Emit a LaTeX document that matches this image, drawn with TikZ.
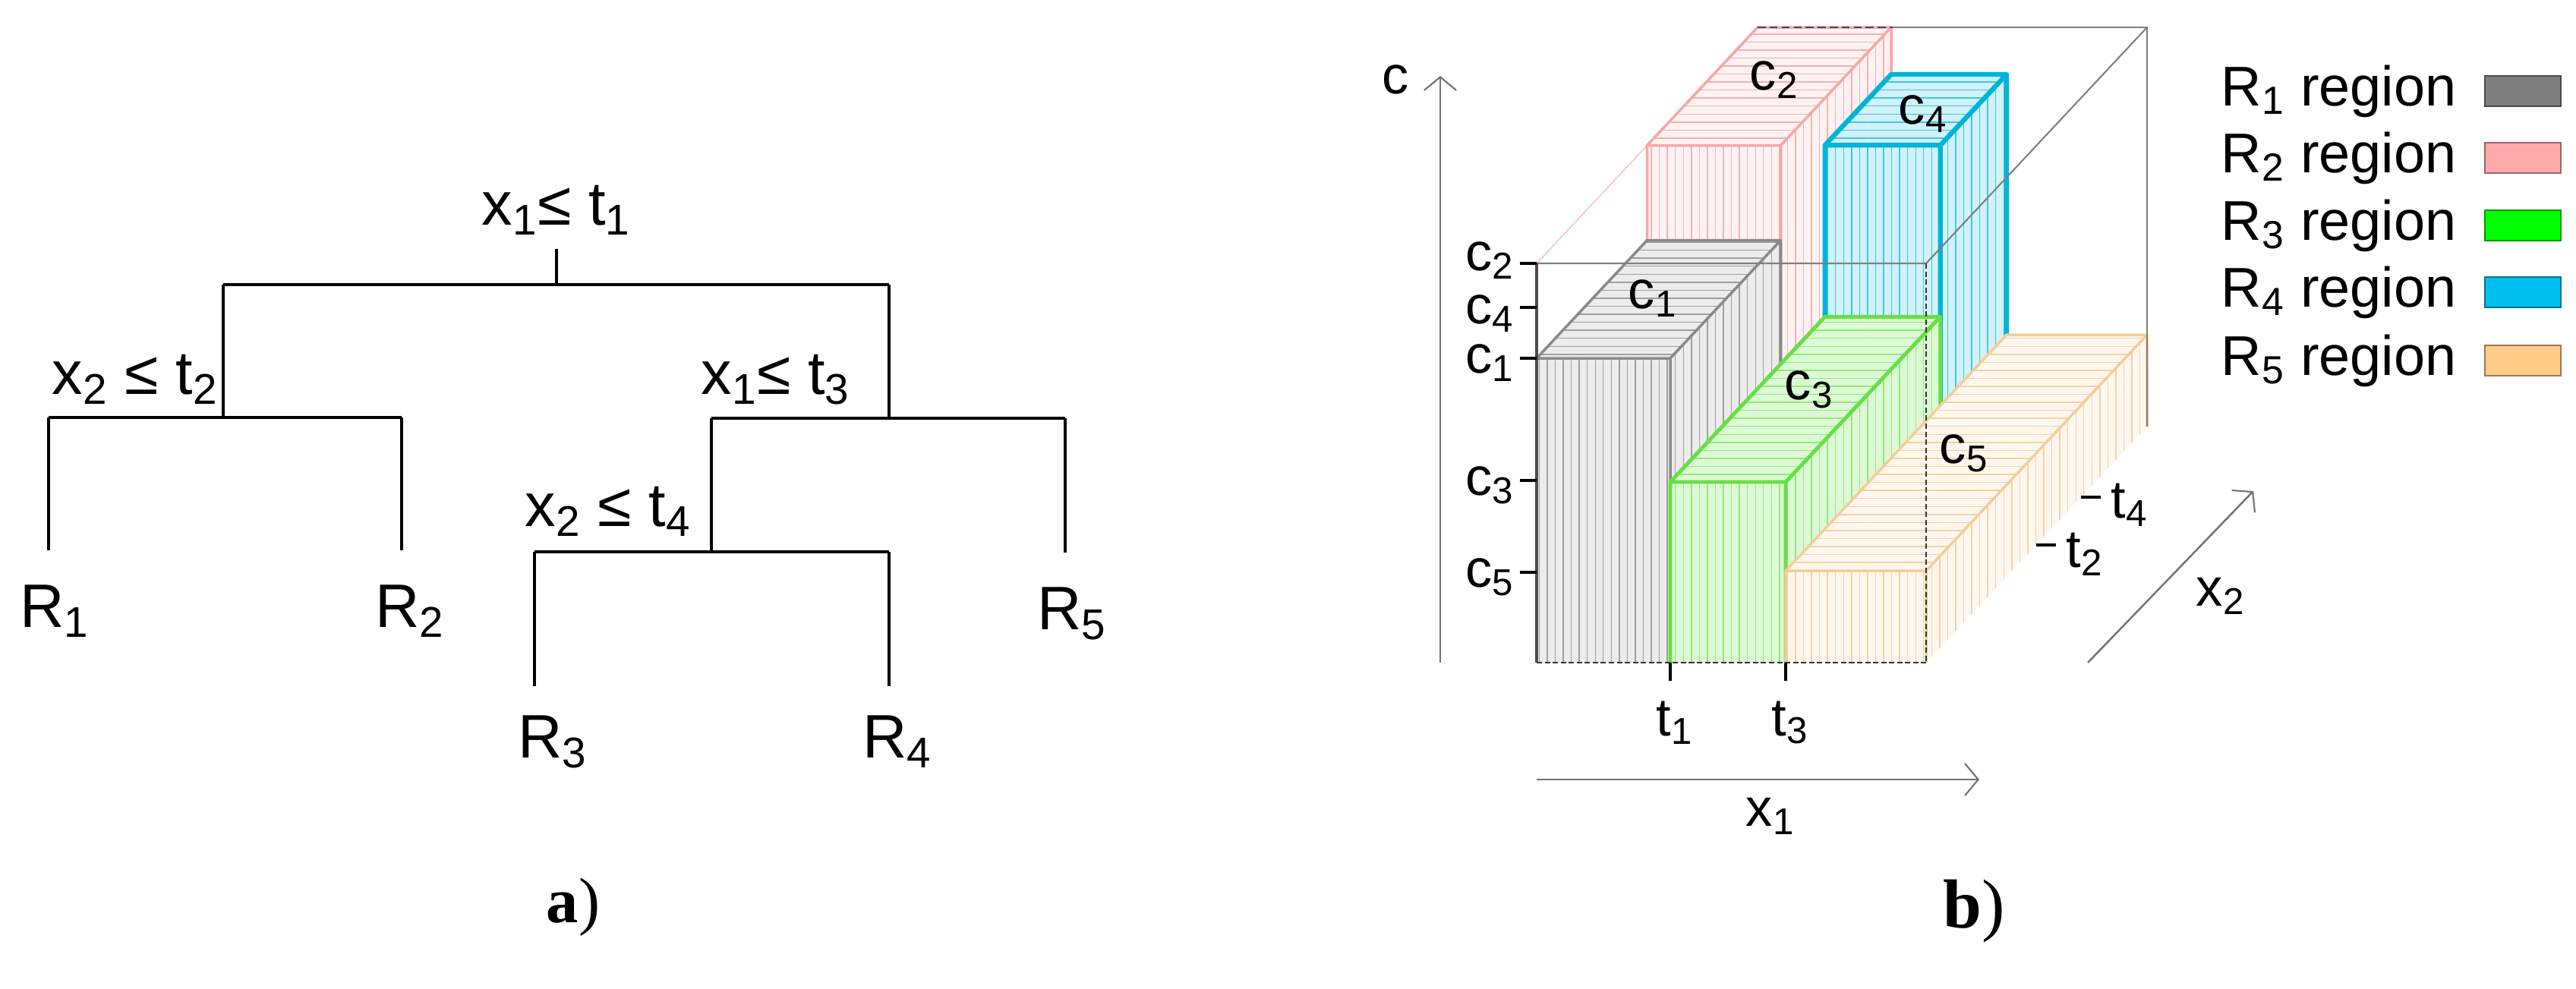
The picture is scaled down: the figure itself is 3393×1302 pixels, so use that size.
\documentclass[tikz,border=0pt]{standalone}
\usepackage{fontspec}
\setmainfont{Liberation Sans}
\newfontfamily\serfam{Liberation Serif}
\usetikzlibrary{patterns,arrows.meta}
\newcommand\sbs[1]{\textsubscript{#1}}
\definecolor{grayE}{HTML}{8A8A8A}
\definecolor{pinkE}{HTML}{F4A9A9}
\definecolor{greenE}{HTML}{66E044}
\definecolor{cyanE}{HTML}{00B4D8}
\definecolor{orangeE}{HTML}{F6CC98}
\definecolor{legG}{HTML}{7F7F7F}
\definecolor{legP}{HTML}{FFAAAA}
\definecolor{legGr}{HTML}{00FF00}
\definecolor{legC}{HTML}{00BFEF}
\definecolor{legO}{HTML}{FFCC88}
\tikzset{
 treeline/.style={line width=0.9pt,black},
 tlab/.style={font=\fontsize{23}{27}\selectfont,inner sep=0pt},
 clab/.style={font=\fontsize{20}{23}\selectfont,inner sep=0pt},
 frame/.style={line width=0.6pt,gray},
 R1 fill/.style={fill=gray!15}, R1 stripe/.style={pattern color=gray!75}, R1 edge/.style={draw=grayE,line width=1pt},
 R2 fill/.style={fill=pinkE!15}, R2 stripe/.style={pattern color=pinkE!90}, R2 edge/.style={draw=pinkE,line width=1pt},
 R3 fill/.style={fill=greenE!22}, R3 stripe/.style={pattern color=greenE!70}, R3 edge/.style={draw=greenE,line width=1.4pt},
 R4 fill/.style={fill=cyanE!18}, R4 stripe/.style={pattern color=cyanE!75}, R4 edge/.style={draw=cyanE,line width=1.8pt},
 R5 fill/.style={fill=orangeE!15}, R5 stripe/.style={pattern color=orangeE!90}, R5 edge/.style={draw=orangeE,line width=1pt},
 open arrow/.style={-{Straight Barb[length=5pt,width=12pt,line width=0.6pt]}}
}
% xa xb da db h style
\newcommand\cuboid[6]{%
 \coordinate (A) at ({#1+291*#3},{873-311*#3});
 \coordinate (B) at ({#2+291*#3},{873-311*#3});
 \coordinate (C) at ({#2+291*#3},{#5-311*#3});
 \coordinate (Dd) at ({#1+291*#3},{#5-311*#3});
 \coordinate (E) at ({#2+291*#4},{873-311*#4});
 \coordinate (F) at ({#2+291*#4},{#5-311*#4});
 \coordinate (G) at ({#1+291*#4},{#5-311*#4});
 \fill[#6 fill] (A) -- (B) -- (E) -- (F) -- (G) -- (Dd) -- cycle;
 \fill[pattern=vertical lines,#6 stripe] (A) -- (B) -- (C) -- (Dd) -- cycle;
 \fill[pattern=vertical lines,#6 stripe] (B) -- (E) -- (F) -- (C) -- cycle;
 \fill[pattern=horizontal lines,#6 stripe] (Dd) -- (C) -- (F) -- (G) -- cycle;
 \draw[#6 edge,line join=round] (A) -- (Dd) -- (C) -- (B) (Dd) -- (G) -- (F) -- (C) (F) -- (E);
}
\begin{document}
\begin{tikzpicture}[x=0.01cm,y=-0.01cm]
\useasboundingbox (0,0) rectangle (3393,1302);
\fill[white] (0,0) rectangle (3393,1302);
% ---------------- tree ----------------
\node[tlab] (n1) at (733,277) {x\sbs{1}≤ t\sbs{1}};
\node[tlab] (n2) at (178,500) {x\sbs{2} ≤ t\sbs{2}};
\node[tlab] (n3) at (1022,500) {x\sbs{1}≤ t\sbs{3}};
\node[tlab] (n4) at (801,674) {x\sbs{2} ≤ t\sbs{4}};
\node[tlab] (l1) at (72,805) {R\sbs{1}};
\node[tlab] (l2) at (540,805) {R\sbs{2}};
\node[tlab] (l5) at (1412,808) {R\sbs{5}};
\node[tlab] (l3) at (728,977) {R\sbs{3}};
\node[tlab] (l4) at (1182,977) {R\sbs{4}};
\coordinate (j1a) at (733,328); \coordinate (j1) at (733,375);
\coordinate (j1l) at (294,375); \coordinate (j1r) at (1171,375);
\coordinate (j2) at (294,550); \coordinate (j2l) at (64,550); \coordinate (j2r) at (529,550);
\coordinate (e1) at (64,725); \coordinate (e2) at (529,725);
\coordinate (j3) at (1171,551); \coordinate (j3l) at (937,551); \coordinate (j3r) at (1403,551);
\coordinate (e5) at (1403,728);
\coordinate (j4) at (937,727); \coordinate (j4l) at (704,727); \coordinate (j4r) at (1171,727);
\coordinate (e3) at (704,904); \coordinate (e4) at (1171,904);
\draw[treeline] (j1a) -- (j1) (j1l) -- (j1r);
\draw[treeline] (j1l) -- (j2) (j2l) -- (j2r) (j2l) -- (e1) (j2r) -- (e2);
\draw[treeline] (j1r) -- (j3) (j3l) -- (j3r) (j3r) -- (e5);
\draw[treeline] (j3l) -- (j4) (j4l) -- (j4r) (j4l) -- (e3) (j4r) -- (e4);
\node[font=\serfam\fontsize{24}{28}\selectfont] (pa) at (755,1195) {\textbf{a})};
% ---------------- 3D plot ----------------
\draw[pinkE!60,line width=0.5pt] (2024,347) -- (2315,36);
\cuboid{2024}{2200}{0.5}{1}{347}{R2}
\cuboid{2200}{2352}{0.7}{1}{409}{R4}
\cuboid{2024}{2200}{0}{0.5}{472}{R1}
\cuboid{2200}{2352}{0}{0.7}{635}{R3}
\cuboid{2352}{2537}{0}{1}{752}{R5}
% cube frame
\draw[frame] (2002,347) -- (2537,347) -- (2828,36);
\draw[frame,dash pattern=on 3pt off 1.5pt,black!70] (2315,36) -- (2493,36);
\draw[frame] (2493,36) -- (2828,36) -- (2828,562);
\draw[black!80,line width=0.6pt,dash pattern=on 2pt off 1pt] (2537,347) -- (2537,873);
\draw[black!80,line width=0.6pt,dash pattern=on 2pt off 1pt] (2024,873) -- (2537,873);
\draw[black!70,line width=0.9pt] (2024,347) -- (2024,873);
% c axis
\coordinate (cb) at (1897,873); \coordinate (ct) at (1897,100);
\draw[gray!90!black,line width=0.7pt,open arrow] (cb) -- (ct);
\node[clab] (clab) at (1838,105) {c};
\foreach \yy/\lab/\dy in {347/2/-4,405/4/8,472/1/6,633/3/6,754/5/6}{
  \draw[line width=1.3pt] (2002,\yy) -- (2024,\yy);
  \node[clab,anchor=east] at (1995,\yy+\dy) {c\sbs{\lab}};
}
\foreach \xx/\lab in {2200/1,2352/3}{
  \draw[line width=1.3pt] (\xx,873) -- (\xx,897);
  \node[clab] at (\xx+6,952) {t\sbs{\lab}};
}
\draw[line width=1.1pt] (2741,655) -- (2767,655);
\node[clab,anchor=west] (t4) at (2780,665) {t\sbs{4}};
\draw[line width=1.1pt] (2682,718) -- (2708,718);
\node[clab,anchor=west] (t2) at (2721,730) {t\sbs{2}};
\coordinate (x1a) at (2024,1027); \coordinate (x1b) at (2607,1027);
\draw[gray!90!black,line width=0.7pt,open arrow] (x1a) -- (x1b);
\node[clab] (x1l) at (2332,1075) {x\sbs{1}};
\coordinate (x2a) at (2750,873); \coordinate (x2b) at (2968,647);
\draw[gray!90!black,line width=0.7pt,open arrow] (x2a) -- (x2b);
\node[clab] (x2l) at (2925,785) {x\sbs{2}};
\node[clab] at (2337,105) {c\sbs{2}};
\node[clab] at (2533,150) {c\sbs{4}};
\node[clab] at (2177,393) {c\sbs{1}};
\node[clab] at (2383,513) {c\sbs{3}};
\node[clab] at (2587,597) {c\sbs{5}};
% legend
\foreach \yy/\n/\col in {120/1/legG,208/2/legP,297/3/legGr,385/4/legC,475/5/legO}{
  \node[font=\fontsize{21}{25}\selectfont,inner sep=0pt,anchor=west] at (2925,\yy) {R\sbs{\n} region};
  \draw[fill=\col,draw=\col!60!black,line width=0.8pt] (3273,\yy-20) rectangle (3373,\yy+20);
}
\node[font=\serfam\fontsize{26}{30}\selectfont] (pb) at (2600,1200) {\textbf{b})};
\end{tikzpicture}
\end{document}
